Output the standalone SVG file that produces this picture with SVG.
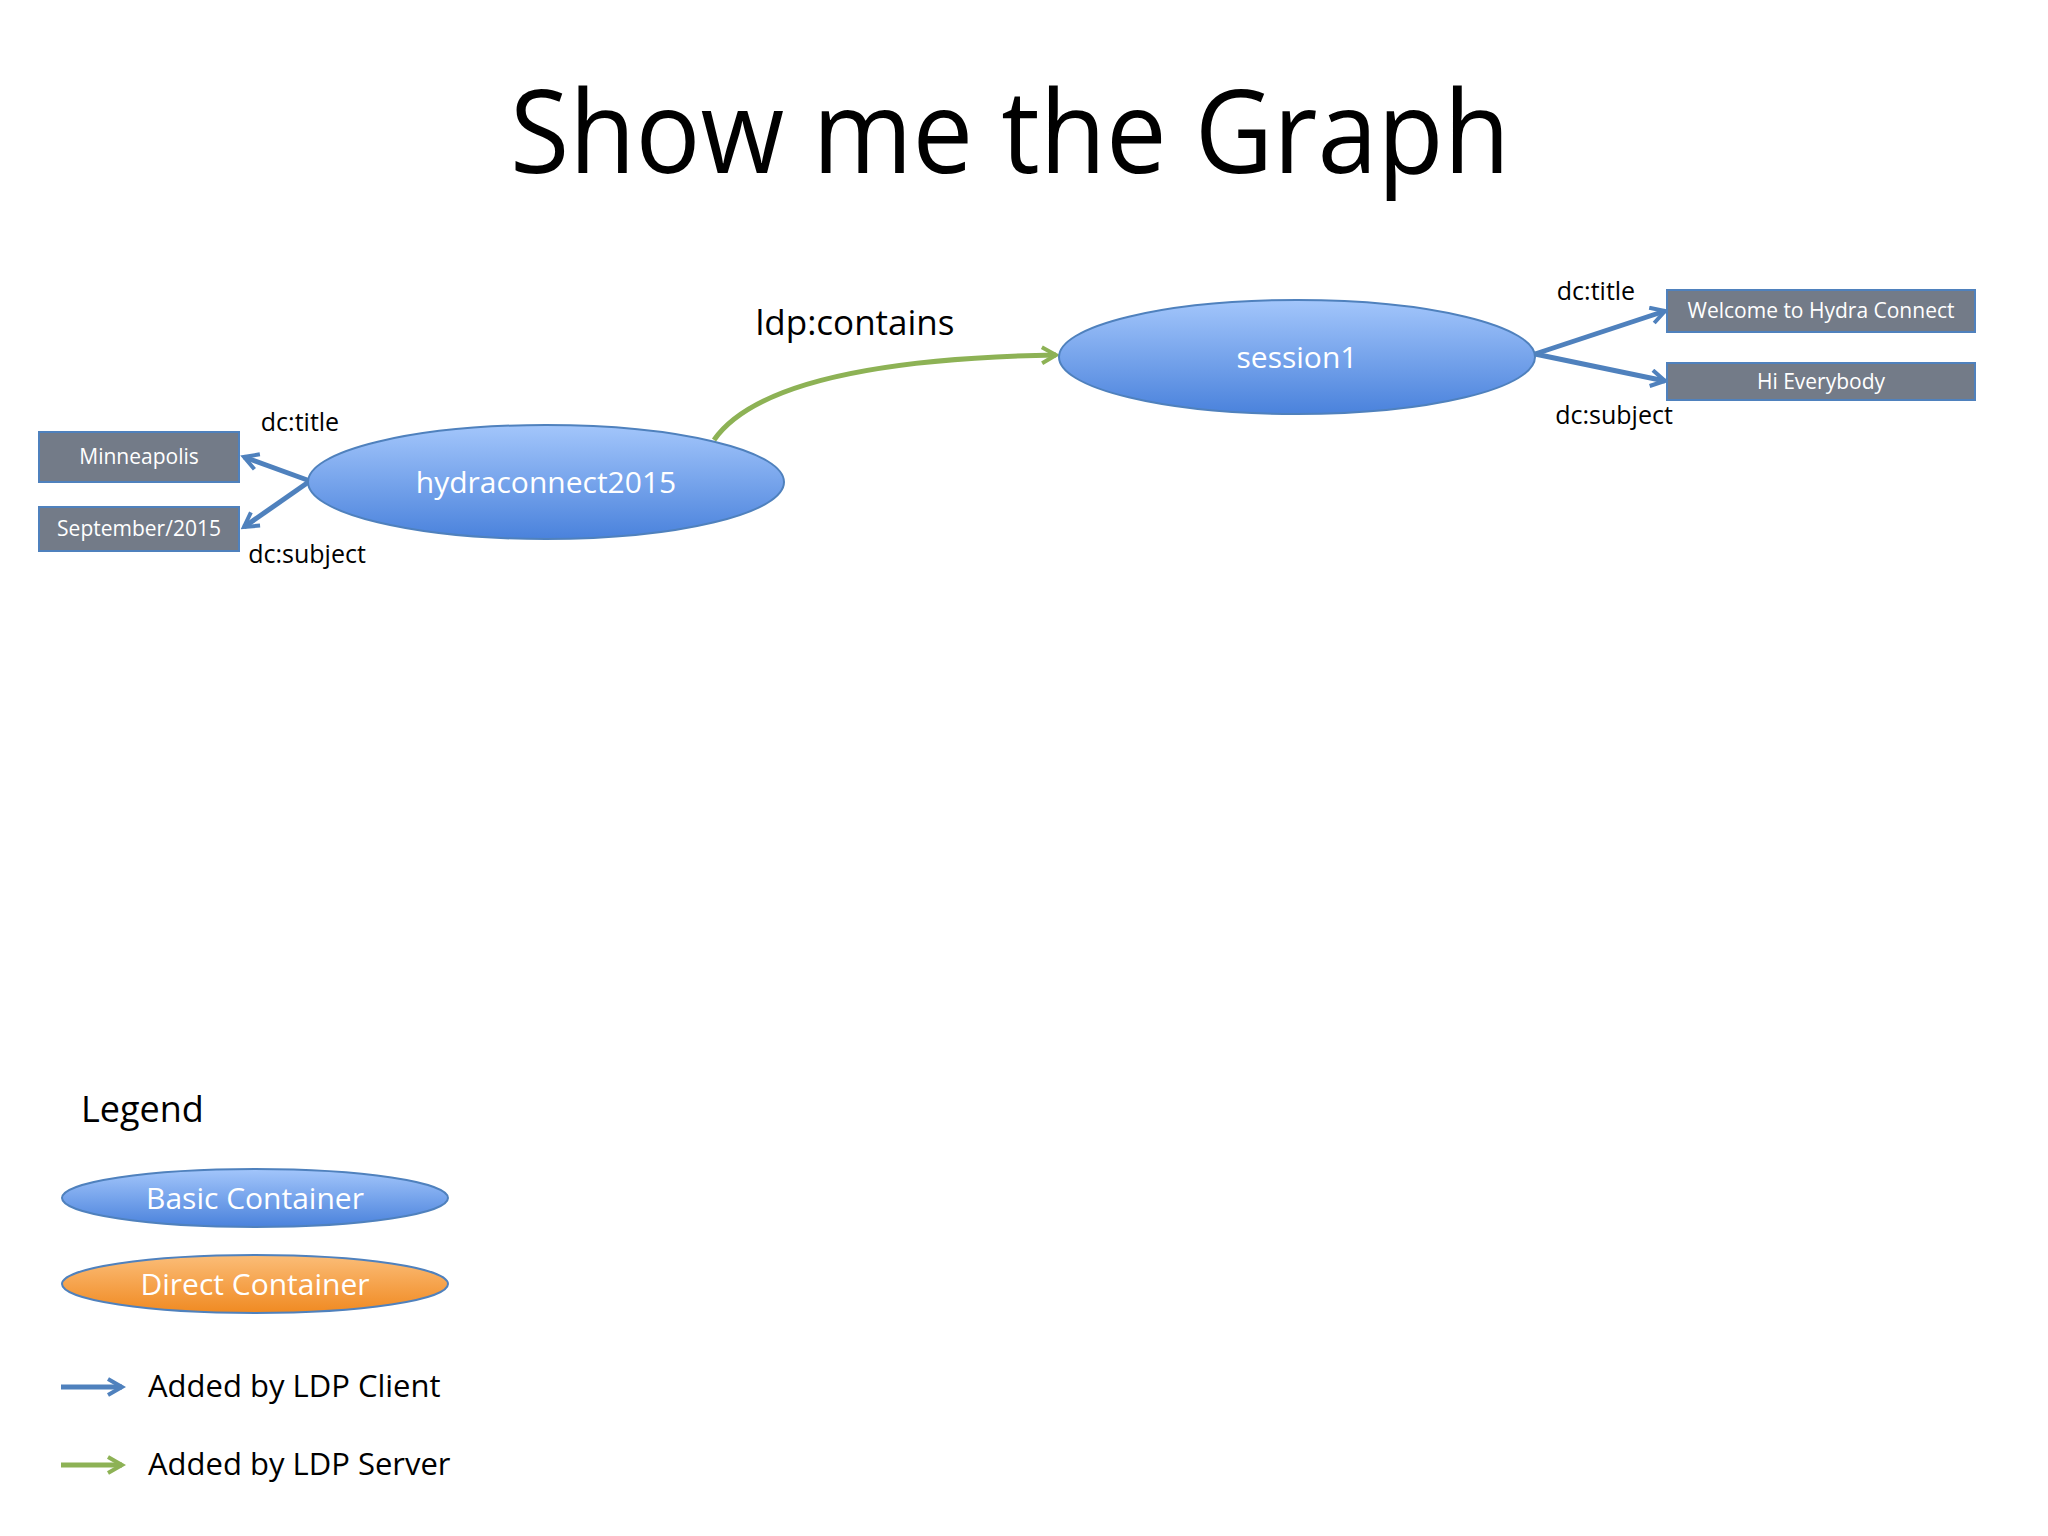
<svg xmlns="http://www.w3.org/2000/svg" width="2048" height="1536" viewBox="0 0 2048 1536">
<defs>
<linearGradient id="gb" x1="0" y1="0" x2="0" y2="1"><stop offset="0" stop-color="#a3c6fb"/><stop offset="1" stop-color="#4a82dc"/></linearGradient>
<linearGradient id="go" x1="0" y1="0" x2="0" y2="1"><stop offset="0" stop-color="#fbbd78"/><stop offset="1" stop-color="#f08a22"/></linearGradient>
<marker id="ab" viewBox="0 0 10 10" refX="8" refY="5" markerWidth="4" markerHeight="4" orient="auto"><path d="M1,1 L8,5 L1,9" fill="none" stroke="#4f81bd" stroke-width="2"/></marker>
<marker id="ag" viewBox="0 0 10 10" refX="8" refY="5" markerWidth="4" markerHeight="4" orient="auto"><path d="M1,1 L8,5 L1,9" fill="none" stroke="#8db255" stroke-width="2"/></marker>
</defs>
<style>
text{font-family:"Open Sans","Liberation Sans",sans-serif}
.ell{fill:url(#gb);stroke:#4f81bd;stroke-width:2}
.box{fill:#737b88;stroke:#4f81bd;stroke-width:2}
.wt{fill:#fff;text-anchor:middle}
.lb{fill:#000;font-size:25px}
.eb{stroke:#4f81bd;stroke-width:5;fill:none;marker-end:url(#ab)}
.eg{stroke:#8db255;stroke-width:5;fill:none;marker-end:url(#ag)}
</style>
<rect width="2048" height="1536" fill="#fff"/>
<text x="1010" y="173" font-size="116" text-anchor="middle" textLength="1000" lengthAdjust="spacingAndGlyphs">Show me the Graph</text>
<g id="connectors">
<path class="eg" d="M714,440 Q770,360 1056,355"/>
<path class="eb" d="M1535,354 L1665,311"/>
<path class="eb" d="M1535,354 L1665,381"/>
<path class="eb" d="M310,481 L244,457"/>
<path class="eb" d="M310,481 L244,527"/>
<text x="855" y="335" font-size="35" text-anchor="middle">ldp:contains</text>
<text class="lb" x="1596" y="300" text-anchor="middle">dc:title</text>
<text class="lb" x="1614" y="424" text-anchor="middle">dc:subject</text>
<text class="lb" x="300" y="431" text-anchor="middle">dc:title</text>
<text class="lb" x="307" y="563" text-anchor="middle">dc:subject</text>
</g>
<g id="session1"><ellipse class="ell" cx="1297" cy="357" rx="238" ry="57"/><text class="wt" x="1297" y="368" font-size="30">session1</text></g>
<g id="hydraconnect2015"><ellipse class="ell" cx="546" cy="482" rx="238" ry="57"/><text class="wt" x="546" y="493" font-size="30">hydraconnect2015</text></g>
<g id="welcome"><rect class="box" x="1667" y="290" width="308" height="42"/><text class="wt" x="1821" y="318" font-size="21">Welcome to Hydra Connect</text></g>
<g id="hi"><rect class="box" x="1667" y="363" width="308" height="37"/><text class="wt" x="1821" y="389" font-size="21">Hi Everybody</text></g>
<g id="minneapolis"><rect class="box" x="39" y="432" width="200" height="50"/><text class="wt" x="139" y="464" font-size="21">Minneapolis</text></g>
<g id="september"><rect class="box" x="39" y="507" width="200" height="44"/><text class="wt" x="139" y="536" font-size="21">September/2015</text></g>
<g id="legend">
<text x="81" y="1122" font-size="36">Legend</text>
<ellipse class="ell" cx="255" cy="1198" rx="193" ry="29"/><text class="wt" x="255" y="1209" font-size="30">Basic Container</text>
<ellipse cx="255" cy="1284" rx="193" ry="29" fill="url(#go)" stroke="#4f81bd" stroke-width="2"/><text class="wt" x="255" y="1295" font-size="30">Direct Container</text>
<path class="eb" d="M61,1387 L122,1387"/><text x="148" y="1397" font-size="31">Added by LDP Client</text>
<path class="eg" d="M61,1465 L122,1465"/><text x="148" y="1475" font-size="31">Added by LDP Server</text>
</g>
</svg>
